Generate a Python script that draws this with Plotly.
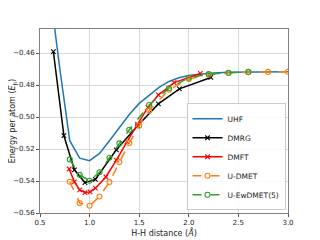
import plotly.graph_objects as go

# ---- data (distances in Angstrom, energies in Hartree per atom) ----
uhf_x = [0.6, 0.7, 0.8, 0.9, 1.0, 1.1, 1.2, 1.3, 1.4, 1.5, 1.6, 1.7, 1.8, 1.9, 2.0, 2.2, 2.4, 2.6, 2.8, 3.0]
uhf_y = [-0.421, -0.4700, -0.5148, -0.5257, -0.5273, -0.5228, -0.5148, -0.5065, -0.4985, -0.4915,
         -0.4862, -0.4815, -0.4778, -0.4755, -0.4740, -0.4726, -0.4720, -0.4718, -0.4717, -0.4717]

dmrg_x = [0.635, 0.741, 0.847, 0.953, 1.058, 1.270, 1.482, 1.693, 1.905, 2.222]
dmrg_y = [-0.4592, -0.5117, -0.5330, -0.5410, -0.5390, -0.5205, -0.5056, -0.4918, -0.4824, -0.4753]

dmft_x = [0.794, 0.847, 0.900, 0.953, 1.005, 1.058, 1.164, 1.270, 1.376, 1.482, 1.587, 1.693, 1.852, 2.117]
dmft_y = [-0.5325, -0.5405, -0.5455, -0.5472, -0.5468, -0.5445, -0.5375, -0.5270, -0.5155, -0.5045,
          -0.4940, -0.4862, -0.4785, -0.4728]

udmet_x = [0.8, 0.9, 1.0, 1.1, 1.2, 1.3, 1.4, 1.5, 1.6, 1.8, 2.0, 2.2, 2.4, 2.6, 2.8, 3.0]
udmet_y = [-0.5405, -0.5538, -0.5555, -0.5497, -0.5407, -0.5282, -0.5162, -0.5055, -0.4960,
           -0.4830, -0.4762, -0.4736, -0.4725, -0.4720, -0.4718, -0.4717]

ewdmet_x = [0.8, 0.9, 1.0, 1.1, 1.2, 1.3, 1.4, 1.6, 1.8, 2.0, 2.2, 2.4, 2.6]
ewdmet_y = [-0.5265, -0.5362, -0.5398, -0.5345, -0.5255, -0.5165, -0.5080, -0.4925, -0.4820,
            -0.4755, -0.4732, -0.4724, -0.4718]

x_ticks = [0.5, 1.0, 1.5, 2.0, 2.5, 3.0]
y_ticks = [-0.56, -0.54, -0.52, -0.50, -0.48, -0.46]

FONT = "DejaVu Sans"

fig = go.Figure()
fig.add_trace(go.Scatter(x=uhf_x, y=uhf_y, name="UHF", mode="lines",
                         line=dict(color="#1f77b4", width=1.5)))
fig.add_trace(go.Scatter(x=dmrg_x, y=dmrg_y, name="DMRG", mode="lines+markers",
                         line=dict(color="black", width=1.5),
                         marker=dict(symbol="x-thin", size=4.5, line=dict(color="black", width=1.1))))
fig.add_trace(go.Scatter(x=dmft_x, y=dmft_y, name="DMFT", mode="lines+markers",
                         line=dict(color="#ff0000", width=1.5),
                         marker=dict(symbol="x-thin", size=4.5, line=dict(color="#ff0000", width=1.1))))
fig.add_trace(go.Scatter(x=udmet_x, y=udmet_y, name="U-DMET", mode="lines+markers",
                         line=dict(color="#ff7f0e", width=1.5, dash="dash"),
                         marker=dict(symbol="circle-open", size=5, line=dict(color="#ff7f0e", width=1.1))))
fig.add_trace(go.Scatter(x=ewdmet_x, y=ewdmet_y, name="U-EwDMET(5)", mode="lines+markers",
                         line=dict(color="#2ca02c", width=1.5, dash="dash"),
                         marker=dict(symbol="circle-open", size=5, line=dict(color="#2ca02c", width=1.1))))

axis_common = dict(showgrid=True, gridcolor="#d9d9d9", gridwidth=1,
                   showline=True, linecolor="#808080", linewidth=1, mirror=True,
                   ticks="outside", ticklen=3, tickcolor="#555555", zeroline=False,
                   tickfont=dict(family=FONT, size=7, color="#222222"))

fig.update_xaxes(range=[0.5, 3.0], tickvals=x_ticks, ticktext=[f"{v:.1f}" for v in x_ticks],
                 title=dict(text="H-H distance (<i>Å</i>)", font=dict(family=FONT, size=8, color="#222222"),
                            standoff=3),
                 automargin=False, **axis_common)
fig.update_yaxes(range=[-0.56, -0.445], tickvals=y_ticks,
                 ticktext=[f"{v:.2f}".replace("-", "\u2212") for v in y_ticks],
                 title=dict(text="Energy per atom (<i>E</i><sub>h</sub>)",
                            font=dict(family=FONT, size=8, color="#222222"), standoff=4),
                 automargin=False, **axis_common)

fig.update_layout(
    width=312, height=232,
    margin=dict(l=32, r=32, t=21, b=27),
    plot_bgcolor="white", paper_bgcolor="white",
    font=dict(family=FONT, size=7, color="#222222"),
    legend=dict(x=0.99, y=0.015, xanchor="right", yanchor="bottom",
                bgcolor="rgba(255,255,255,0.85)", bordercolor="#cccccc", borderwidth=1,
                font=dict(family=FONT, size=7.5, color="#222222"),
                tracegroupgap=0, itemwidth=30),
    showlegend=True,
)

fig.write_html("out.html")
